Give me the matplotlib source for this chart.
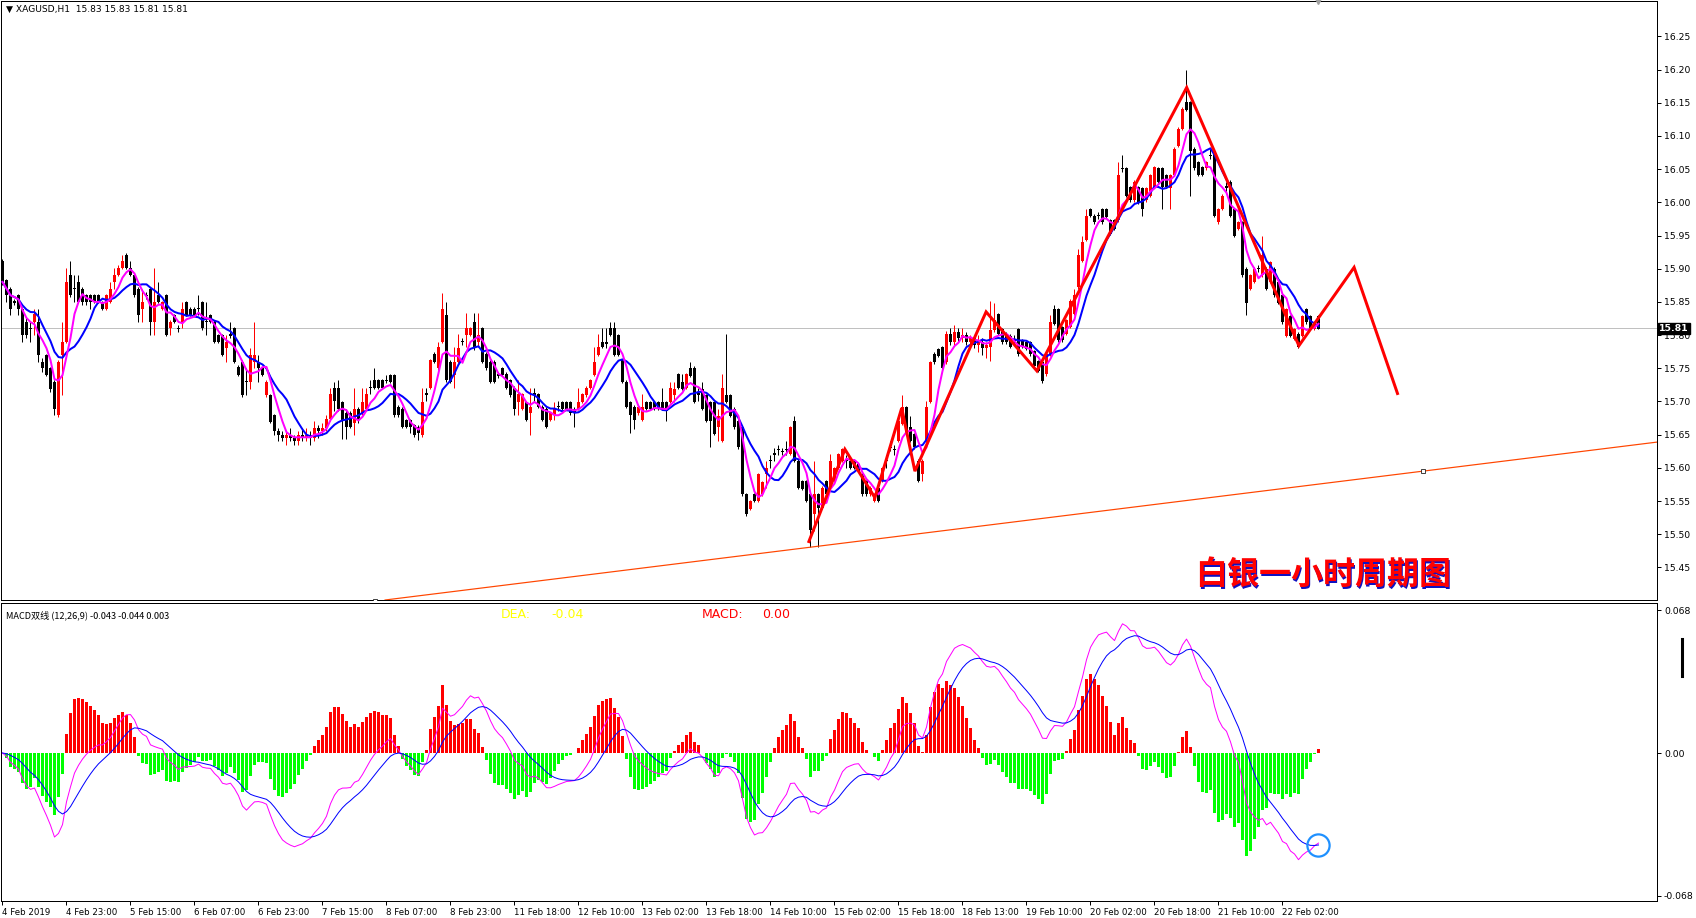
import numpy as np
import pandas as pd
import matplotlib
matplotlib.use("Agg")
import matplotlib.pyplot as plt
from matplotlib.transforms import offset_copy

plt.rcParams['font.family'] = ['DejaVu Sans']

# ---- XAGUSD H1 candles ----
open_ = [
    15.911, 15.883, 15.870, 15.851, 15.860, 15.840, 15.820, 15.811, 15.820, 15.820,
    15.760, 15.770, 15.750, 15.730, 15.679, 15.770, 15.790, 15.891, 15.871, 15.880,
    15.870, 15.860, 15.860, 15.860, 15.860, 15.850, 15.840, 15.850, 15.880, 15.891,
    15.901, 15.921, 15.901, 15.891, 15.870, 15.840, 15.861, 15.870, 15.820, 15.860,
    15.840, 15.860, 15.810, 15.830, 15.811, 15.820, 15.850, 15.840, 15.840, 15.841,
    15.850, 15.821, 15.830, 15.820, 15.800, 15.800, 15.780, 15.801, 15.810, 15.752,
    15.760, 15.731, 15.730, 15.760, 15.760, 15.750, 15.709, 15.709, 15.679, 15.655,
    15.650, 15.645, 15.650, 15.645, 15.640, 15.650, 15.645, 15.650, 15.645, 15.660,
    15.655, 15.660, 15.674, 15.720, 15.721, 15.699, 15.682, 15.682, 15.667, 15.689,
    15.682, 15.689, 15.722, 15.732, 15.732, 15.732, 15.733, 15.740, 15.740, 15.692,
    15.689, 15.672, 15.672, 15.664, 15.662, 15.649, 15.712, 15.721, 15.772, 15.750,
    15.790, 15.830, 15.760, 15.740, 15.760, 15.791, 15.800, 15.800, 15.820, 15.790,
    15.810, 15.772, 15.760, 15.760, 15.741, 15.750, 15.742, 15.732, 15.721, 15.699,
    15.689, 15.699, 15.682, 15.712, 15.711, 15.692, 15.689, 15.672, 15.679, 15.693,
    15.699, 15.699, 15.699, 15.689, 15.689, 15.699, 15.709, 15.721, 15.740, 15.770,
    15.790, 15.789, 15.810, 15.810, 15.800, 15.762, 15.730, 15.699, 15.692, 15.682,
    15.672, 15.699, 15.699, 15.699, 15.699, 15.699, 15.699, 15.699, 15.709, 15.741,
    15.729, 15.721, 15.751, 15.751, 15.712, 15.719, 15.709, 15.699, 15.699, 15.661,
    15.641, 15.709, 15.709, 15.689, 15.671, 15.661, 15.560, 15.538, 15.560, 15.550,
    15.560, 15.590, 15.612, 15.622, 15.629, 15.626, 15.629, 15.621, 15.671, 15.611,
    15.580, 15.580, 15.560, 15.530, 15.560, 15.540, 15.580, 15.570, 15.580, 15.600,
    15.611, 15.612, 15.611, 15.611, 15.606, 15.590, 15.580, 15.560, 15.550, 15.570,
    15.580, 15.612, 15.632, 15.629, 15.641, 15.666, 15.691, 15.661, 15.651, 15.611,
    15.590, 15.641, 15.699, 15.772, 15.779, 15.782, 15.759, 15.802, 15.790, 15.805,
    15.795, 15.800, 15.790, 15.795, 15.785, 15.790, 15.780, 15.782, 15.807, 15.832,
    15.809, 15.802, 15.799, 15.793, 15.809, 15.792, 15.789, 15.789, 15.776, 15.761,
    15.759, 15.741, 15.771, 15.839, 15.839, 15.812, 15.802, 15.812, 15.832, 15.872,
    15.912, 15.943, 15.990, 15.980, 15.981, 15.990, 15.990, 15.973, 15.973, 15.973,
    16.052, 16.051, 16.023, 16.003, 16.023, 16.021, 16.003, 16.010, 16.023, 16.051,
    16.051, 16.041, 16.021, 16.041, 16.085, 16.111, 16.151, 16.151, 16.081, 16.061,
    16.053, 16.051, 16.072, 16.073, 15.970, 15.990, 16.024, 16.031, 15.990, 15.960,
    15.970, 15.900, 15.870, 15.880, 15.901, 15.890, 15.900, 15.880, 15.900, 15.880,
    15.860, 15.799, 15.829, 15.794, 15.802, 15.799, 15.839, 15.829, 15.809, 15.829,
]
high = [
    15.915, 15.885, 15.872, 15.855, 15.862, 15.842, 15.825, 15.820, 15.840, 15.840,
    15.765, 15.772, 15.752, 15.732, 15.762, 15.820, 15.901, 15.911, 15.891, 15.891,
    15.872, 15.862, 15.862, 15.862, 15.862, 15.852, 15.862, 15.880, 15.901, 15.905,
    15.921, 15.923, 15.911, 15.893, 15.872, 15.870, 15.865, 15.872, 15.901, 15.880,
    15.852, 15.862, 15.822, 15.832, 15.815, 15.850, 15.852, 15.842, 15.842, 15.860,
    15.852, 15.850, 15.832, 15.822, 15.802, 15.802, 15.800, 15.820, 15.812, 15.755,
    15.762, 15.750, 15.780, 15.820, 15.770, 15.752, 15.732, 15.711, 15.681, 15.660,
    15.655, 15.655, 15.660, 15.650, 15.655, 15.660, 15.660, 15.655, 15.670, 15.665,
    15.668, 15.680, 15.720, 15.730, 15.732, 15.700, 15.689, 15.685, 15.721, 15.692,
    15.721, 15.721, 15.732, 15.751, 15.734, 15.734, 15.740, 15.742, 15.742, 15.695,
    15.691, 15.674, 15.674, 15.666, 15.664, 15.721, 15.721, 15.764, 15.774, 15.790,
    15.863, 15.850, 15.762, 15.782, 15.802, 15.795, 15.833, 15.812, 15.833, 15.833,
    15.812, 15.774, 15.762, 15.762, 15.745, 15.752, 15.744, 15.734, 15.723, 15.732,
    15.713, 15.701, 15.721, 15.720, 15.713, 15.694, 15.691, 15.684, 15.699, 15.700,
    15.701, 15.701, 15.701, 15.691, 15.721, 15.713, 15.723, 15.734, 15.782, 15.802,
    15.810, 15.810, 15.820, 15.820, 15.802, 15.764, 15.732, 15.701, 15.694, 15.694,
    15.711, 15.701, 15.701, 15.701, 15.701, 15.721, 15.701, 15.729, 15.729, 15.743,
    15.741, 15.743, 15.759, 15.753, 15.720, 15.729, 15.711, 15.701, 15.701, 15.689,
    15.741, 15.802, 15.711, 15.691, 15.673, 15.663, 15.562, 15.552, 15.562, 15.592,
    15.580, 15.611, 15.620, 15.630, 15.635, 15.630, 15.641, 15.663, 15.678, 15.613,
    15.582, 15.582, 15.562, 15.611, 15.562, 15.572, 15.582, 15.621, 15.602, 15.623,
    15.630, 15.620, 15.613, 15.613, 15.608, 15.592, 15.582, 15.572, 15.562, 15.572,
    15.602, 15.620, 15.640, 15.635, 15.673, 15.709, 15.693, 15.678, 15.653, 15.613,
    15.613, 15.701, 15.761, 15.774, 15.781, 15.784, 15.806, 15.810, 15.815, 15.810,
    15.810, 15.805, 15.800, 15.800, 15.800, 15.795, 15.790, 15.852, 15.849, 15.834,
    15.811, 15.804, 15.801, 15.800, 15.811, 15.794, 15.791, 15.791, 15.778, 15.763,
    15.761, 15.773, 15.830, 15.845, 15.841, 15.814, 15.824, 15.854, 15.870, 15.930,
    15.950, 15.990, 15.992, 15.982, 15.985, 15.992, 15.992, 15.975, 15.975, 16.061,
    16.071, 16.053, 16.025, 16.033, 16.025, 16.023, 16.023, 16.043, 16.055, 16.053,
    16.053, 16.043, 16.043, 16.083, 16.113, 16.143, 16.200, 16.153, 16.083, 16.063,
    16.055, 16.063, 16.080, 16.080, 15.992, 16.012, 16.030, 16.033, 15.992, 15.972,
    15.972, 15.902, 15.892, 15.902, 15.905, 15.950, 15.902, 15.912, 15.902, 15.882,
    15.862, 15.841, 15.831, 15.811, 15.804, 15.831, 15.841, 15.831, 15.821, 15.830,
]
low = [
    15.875, 15.850, 15.830, 15.845, 15.830, 15.790, 15.795, 15.790, 15.800, 15.760,
    15.745, 15.738, 15.715, 15.679, 15.677, 15.709, 15.788, 15.858, 15.850, 15.848,
    15.845, 15.845, 15.840, 15.848, 15.848, 15.838, 15.838, 15.848, 15.870, 15.889,
    15.899, 15.899, 15.889, 15.858, 15.820, 15.820, 15.855, 15.800, 15.800, 15.848,
    15.838, 15.798, 15.800, 15.818, 15.805, 15.810, 15.828, 15.828, 15.828, 15.830,
    15.808, 15.800, 15.818, 15.788, 15.788, 15.768, 15.760, 15.795, 15.758, 15.738,
    15.707, 15.709, 15.719, 15.750, 15.730, 15.738, 15.707, 15.667, 15.650, 15.640,
    15.640, 15.635, 15.640, 15.635, 15.635, 15.640, 15.640, 15.635, 15.640, 15.645,
    15.650, 15.655, 15.670, 15.685, 15.685, 15.644, 15.644, 15.660, 15.649, 15.668,
    15.680, 15.687, 15.711, 15.719, 15.719, 15.719, 15.728, 15.728, 15.677, 15.677,
    15.660, 15.660, 15.652, 15.647, 15.642, 15.647, 15.700, 15.719, 15.758, 15.748,
    15.788, 15.730, 15.728, 15.721, 15.758, 15.785, 15.782, 15.798, 15.778, 15.782,
    15.758, 15.748, 15.728, 15.728, 15.735, 15.738, 15.719, 15.707, 15.679, 15.679,
    15.687, 15.670, 15.649, 15.700, 15.690, 15.670, 15.660, 15.670, 15.672, 15.685,
    15.687, 15.687, 15.680, 15.662, 15.687, 15.697, 15.707, 15.719, 15.738, 15.768,
    15.780, 15.780, 15.798, 15.768, 15.768, 15.728, 15.690, 15.652, 15.659, 15.680,
    15.670, 15.687, 15.687, 15.687, 15.687, 15.687, 15.671, 15.697, 15.699, 15.719,
    15.717, 15.719, 15.737, 15.697, 15.700, 15.687, 15.669, 15.631, 15.649, 15.641,
    15.639, 15.697, 15.676, 15.659, 15.629, 15.558, 15.528, 15.536, 15.548, 15.548,
    15.558, 15.570, 15.600, 15.610, 15.620, 15.620, 15.620, 15.619, 15.609, 15.568,
    15.566, 15.548, 15.480, 15.505, 15.480, 15.538, 15.558, 15.568, 15.578, 15.598,
    15.609, 15.600, 15.598, 15.598, 15.593, 15.558, 15.558, 15.558, 15.548, 15.548,
    15.578, 15.600, 15.625, 15.620, 15.639, 15.664, 15.649, 15.639, 15.629, 15.578,
    15.580, 15.639, 15.697, 15.757, 15.767, 15.749, 15.757, 15.785, 15.785, 15.790,
    15.790, 15.785, 15.780, 15.780, 15.775, 15.770, 15.765, 15.761, 15.805, 15.800,
    15.787, 15.787, 15.780, 15.785, 15.769, 15.780, 15.777, 15.769, 15.752, 15.744,
    15.728, 15.739, 15.769, 15.815, 15.790, 15.790, 15.800, 15.810, 15.830, 15.870,
    15.910, 15.941, 15.978, 15.968, 15.975, 15.968, 15.976, 15.951, 15.958, 15.971,
    16.045, 16.008, 16.001, 16.001, 15.998, 15.980, 16.001, 16.008, 16.021, 16.029,
    15.990, 16.021, 15.990, 16.039, 16.083, 16.109, 16.137, 16.010, 16.049, 16.039,
    16.039, 16.049, 16.065, 15.978, 15.968, 15.988, 16.015, 15.978, 15.948, 15.958,
    15.888, 15.830, 15.868, 15.878, 15.895, 15.888, 15.868, 15.878, 15.858, 15.847,
    15.817, 15.797, 15.797, 15.792, 15.780, 15.797, 15.817, 15.807, 15.807, 15.809,
]
close = [
    15.880, 15.860, 15.840, 15.849, 15.840, 15.800, 15.800, 15.809, 15.832, 15.770,
    15.750, 15.740, 15.719, 15.689, 15.760, 15.790, 15.880, 15.860, 15.869, 15.850,
    15.850, 15.850, 15.850, 15.850, 15.850, 15.840, 15.860, 15.870, 15.891, 15.901,
    15.911, 15.901, 15.891, 15.860, 15.830, 15.850, 15.859, 15.820, 15.850, 15.850,
    15.850, 15.800, 15.820, 15.820, 15.809, 15.840, 15.830, 15.830, 15.830, 15.839,
    15.810, 15.819, 15.820, 15.790, 15.790, 15.770, 15.790, 15.799, 15.760, 15.740,
    15.709, 15.729, 15.770, 15.770, 15.750, 15.740, 15.730, 15.669, 15.655, 15.650,
    15.645, 15.650, 15.645, 15.640, 15.650, 15.645, 15.650, 15.645, 15.660, 15.655,
    15.660, 15.674, 15.711, 15.700, 15.689, 15.672, 15.662, 15.662, 15.689, 15.672,
    15.699, 15.711, 15.720, 15.721, 15.721, 15.721, 15.731, 15.730, 15.679, 15.679,
    15.662, 15.662, 15.662, 15.649, 15.652, 15.699, 15.710, 15.762, 15.760, 15.782,
    15.840, 15.732, 15.730, 15.760, 15.780, 15.789, 15.810, 15.810, 15.780, 15.800,
    15.760, 15.750, 15.730, 15.730, 15.739, 15.740, 15.721, 15.709, 15.689, 15.711,
    15.711, 15.672, 15.692, 15.710, 15.692, 15.672, 15.662, 15.682, 15.689, 15.691,
    15.689, 15.689, 15.682, 15.682, 15.699, 15.711, 15.721, 15.732, 15.760, 15.782,
    15.782, 15.787, 15.800, 15.770, 15.770, 15.730, 15.692, 15.679, 15.672, 15.692,
    15.692, 15.689, 15.689, 15.689, 15.689, 15.689, 15.686, 15.721, 15.719, 15.721,
    15.719, 15.741, 15.739, 15.699, 15.710, 15.689, 15.671, 15.671, 15.651, 15.678,
    15.721, 15.699, 15.678, 15.661, 15.631, 15.560, 15.530, 15.550, 15.550, 15.590,
    15.578, 15.600, 15.610, 15.620, 15.627, 15.624, 15.627, 15.661, 15.611, 15.570,
    15.568, 15.550, 15.507, 15.560, 15.540, 15.570, 15.560, 15.611, 15.600, 15.621,
    15.628, 15.610, 15.600, 15.600, 15.595, 15.560, 15.560, 15.570, 15.560, 15.550,
    15.600, 15.610, 15.630, 15.627, 15.671, 15.691, 15.651, 15.641, 15.631, 15.580,
    15.611, 15.691, 15.759, 15.759, 15.769, 15.751, 15.802, 15.790, 15.805, 15.795,
    15.800, 15.790, 15.795, 15.785, 15.790, 15.780, 15.785, 15.807, 15.822, 15.802,
    15.789, 15.789, 15.782, 15.791, 15.771, 15.782, 15.779, 15.771, 15.754, 15.746,
    15.731, 15.771, 15.819, 15.817, 15.792, 15.792, 15.822, 15.852, 15.860, 15.920,
    15.940, 15.980, 15.980, 15.970, 15.979, 15.970, 15.978, 15.953, 15.960, 16.041,
    16.050, 16.010, 16.003, 16.031, 16.000, 15.990, 16.021, 16.041, 16.053, 16.031,
    16.023, 16.023, 16.041, 16.081, 16.111, 16.141, 16.139, 16.078, 16.051, 16.041,
    16.041, 16.061, 16.070, 15.980, 15.990, 16.010, 16.022, 15.980, 15.950, 15.970,
    15.890, 15.849, 15.890, 15.900, 15.899, 15.920, 15.870, 15.910, 15.860, 15.849,
    15.819, 15.839, 15.799, 15.809, 15.782, 15.829, 15.819, 15.809, 15.819, 15.809,
]

time_labels = ["4 Feb 2019", "4 Feb 23:00", "5 Feb 15:00", "6 Feb 07:00", "6 Feb 23:00",
               "7 Feb 15:00", "8 Feb 07:00", "8 Feb 23:00", "11 Feb 18:00", "12 Feb 10:00",
               "13 Feb 02:00", "13 Feb 18:00", "14 Feb 10:00", "15 Feb 02:00", "15 Feb 18:00",
               "18 Feb 13:00", "19 Feb 10:00", "20 Feb 02:00", "20 Feb 18:00", "21 Feb 10:00",
               "22 Feb 02:00"]
price_ticks = [15.45, 15.50, 15.55, 15.60, 15.65, 15.70, 15.75, 15.80, 15.85, 15.90,
               15.95, 16.00, 16.05, 16.10, 16.15, 16.20, 16.25]

# hand-drawn objects on the chart (bar index, price)
zigzag_bar = [201.6, 210.6, 218.1, 224.8, 228.1, 245.9, 258.6, 296.05, 324.1, 337.9, 348.75]
zigzag_price = [15.489, 15.628, 15.555, 15.690, 15.595, 15.835, 15.746, 16.173, 15.784, 15.902, 15.712]
trend_bar = [93.1, 355.1]
trend_price = [15.399, 15.595]
last_price = 15.81

df = pd.DataFrame({"open": open_, "high": high, "low": low, "close": close})
x = np.arange(len(df))

df["ma5"] = df["close"].rolling(5, min_periods=1).mean()
df["ma10"] = df["close"].rolling(10, min_periods=1).mean()
ema12 = df["close"].ewm(span=12, adjust=False).mean()
ema26 = df["close"].ewm(span=26, adjust=False).mean()
df["dif"] = ema12 - ema26
df["dea"] = df["dif"].ewm(span=9, adjust=False).mean()
df["hist"] = 2 * (df["dif"] - df["dea"])

W, H = 1696, 918
PX = 0.72  # one pixel in points
fig = plt.figure(figsize=(W / 100, H / 100), dpi=100)
ax = fig.add_axes([1 / W, 1 - 600 / H, 1656 / W, 599 / H])
axm = fig.add_axes([1 / W, 1 - 901 / H, 1656 / W, 298.5 / H])

xlim = (-0.375, 413.625)

# ---- price panel ----
up = df["close"] >= df["open"]
colors = np.where(up, "#FF0000", "#000000")
ax.vlines(x, df["low"], df["high"], colors=colors, linewidth=PX, zorder=3)
body_lo = np.minimum(df["open"], df["close"])
body_h = np.maximum((df["close"] - df["open"]).abs(), 0.0012)
ax.bar(x, body_h, bottom=body_lo, width=0.72, color=colors, linewidth=0, zorder=3)

ax.plot(x, df["ma10"], color="#0000FF", lw=2 * PX, zorder=4)
ax.plot(x, df["ma5"], color="#FF00FF", lw=2 * PX, zorder=4)

ax.axhline(last_price, color="#C0C0C0", lw=PX, zorder=1)
ax.axline((trend_bar[0], trend_price[0]), (trend_bar[1], trend_price[1]),
          color="#FF4500", lw=PX * 1.2, zorder=5)
ax.plot(trend_bar, trend_price, ls="none", marker="s", ms=3, mfc="white",
        mec="#202020", mew=0.6, zorder=6)
ax.plot(zigzag_bar, zigzag_price, color="#FF0000", lw=3 * PX, zorder=6,
        solid_joinstyle="miter")

ax.plot([x[-1]], [1.0], marker="v", color="#A0A0A0", ms=5,
        transform=ax.get_xaxis_transform(), clip_on=False, zorder=7)

ax.set_xlim(*xlim)
ax.set_ylim(15.4009, 16.3033)
ax.yaxis.tick_right()
ax.set_yticks(price_ticks)
ax.set_yticklabels([f"{t:.2f}" for t in price_ticks])
ax.tick_params(axis="y", length=3, width=PX, pad=2, labelsize=6.7)
ax.set_xticks([])
for s in ax.spines.values():
    s.set_linewidth(PX)

ax.text(1.0012, last_price, f"{last_price:.2f}", transform=ax.get_yaxis_transform(),
        ha="left", va="center", fontsize=6.7, color="white", fontweight="bold",
        bbox=dict(boxstyle="square,pad=0.15", fc="black", ec="black"), zorder=10, clip_on=False)

fig.text(6 / W, 1 - 9 / H, "\u25bc XAGUSD,H1  15.83 15.83 15.81 15.81", fontsize=6.6,
         ha="left", va="center", color="#000000")

# title with a blue drop shadow
tx, ty = 1195 / W, 1 - 575 / H
title = "白银一小时周期图"
cjk = ["Noto Sans CJK SC", "DejaVu Sans"]
fig.text(tx, ty, title, fontsize=23, fontweight="bold", color="#1010C0", family=cjk,
         ha="left", va="center",
         transform=offset_copy(fig.transFigure, fig=fig, x=1.5, y=-1.5, units="dots"))
fig.text(tx, ty, title, fontsize=23, fontweight="bold", color="#FF0000", family=cjk,
         ha="left", va="center")

# ---- MACD panel ----
hist_colors = np.where(df["hist"] >= 0, "#FF0000", "#00FF00")
axm.bar(x, df["hist"], width=0.72, color=hist_colors, linewidth=0, zorder=2)
axm.plot(x, df["dif"], color="#FF00FF", lw=PX, zorder=3)
axm.plot(x, df["dea"], color="#0000FF", lw=PX, zorder=3)
axm.plot([x[-1]], [df["dea"].iloc[-1]], marker="o", ms=16, mfc="none",
         mec="#1E90FF", mew=1.6, zorder=5)

axm.set_xlim(*xlim)
axm.set_ylim(-0.0704, 0.0716)
axm.yaxis.tick_right()
axm.set_yticks([-0.068, 0.0, 0.068])
axm.set_yticklabels(["-0.068", "0.00", "0.068"])
axm.tick_params(axis="y", length=3, width=PX, pad=2, labelsize=6.7)
tick_pos = x[::16][:len(time_labels)]
axm.set_xticks(tick_pos)
axm.set_xticklabels(time_labels, ha="left")
axm.tick_params(axis="x", length=3, width=PX, pad=2, labelsize=6.2)
for s in axm.spines.values():
    s.set_linewidth(PX)

fig.text(6 / W, 1 - 615 / H, "MACD双线 (12,26,9) -0.043 -0.044 0.003", fontsize=6.6,
         family=cjk, ha="left", va="center")
fig.text(501 / W, 1 - 615 / H, "DEA:", fontsize=9, color="#FFFF00", ha="left", va="center")
fig.text(551 / W, 1 - 615 / H, "-0.04", fontsize=9, color="#FFFF00", ha="left", va="center")
fig.text(702 / W, 1 - 615 / H, "MACD:", fontsize=9, color="#FF0000", ha="left", va="center")
fig.text(762 / W, 1 - 615 / H, "0.00", fontsize=9, color="#FF0000", ha="left", va="center")

# scroll marker at the right of the indicator window
fig.add_artist(plt.Line2D([1682 / W, 1682 / W], [1 - 639 / H, 1 - 676 / H],
                          color="black", lw=2.2))

fig.savefig("out.png", dpi=100, facecolor="white")
